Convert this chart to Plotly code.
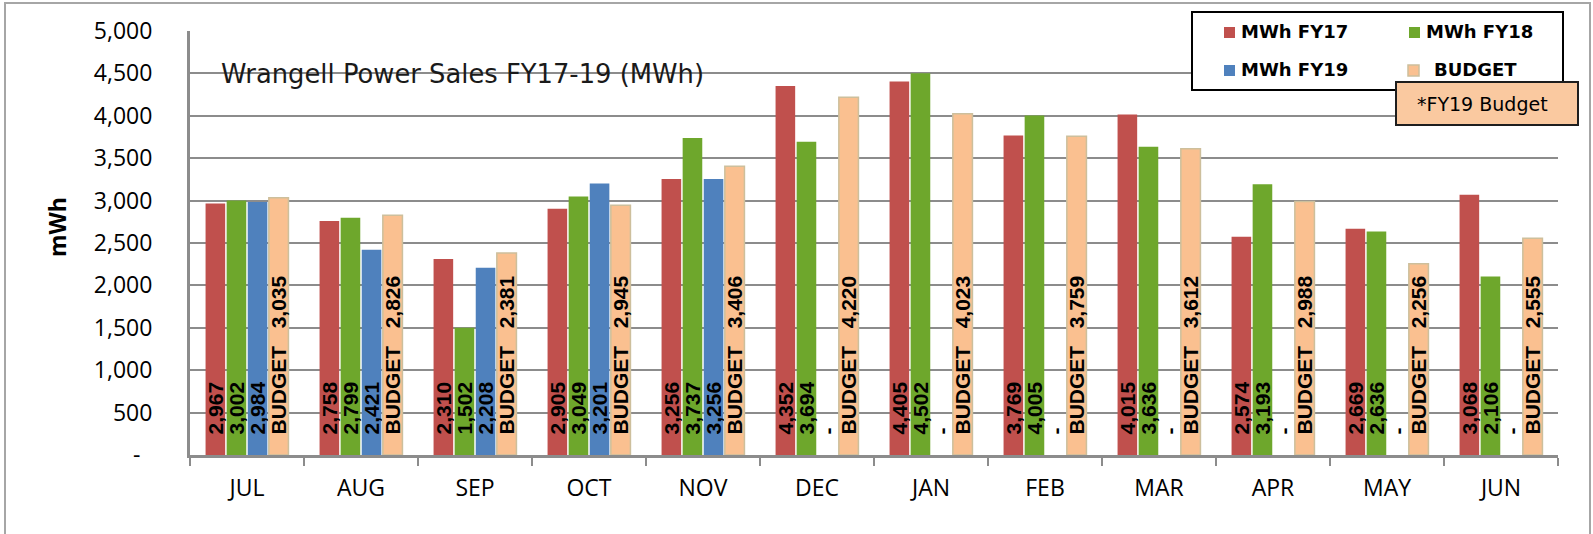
import plotly.graph_objects as go

# ---- data -------------------------------------------------------------
months = ["JUL", "AUG", "SEP", "OCT", "NOV", "DEC",
          "JAN", "FEB", "MAR", "APR", "MAY", "JUN"]
mwh_fy17 = [2967, 2758, 2310, 2905, 3256, 4352, 4405, 3769, 4015, 2574, 2669, 3068]
mwh_fy18 = [3002, 2799, 1502, 3049, 3737, 3694, 4502, 4005, 3636, 3193, 2636, 2106]
mwh_fy19 = [2984, 2421, 2208, 3201, 3256, 0, 0, 0, 0, 0, 0, 0]
budget = [3035, 2826, 2381, 2945, 3406, 4220, 4023, 3759, 3612, 2988, 2256, 2555]

y_tick_vals = [0, 500, 1000, 1500, 2000, 2500, 3000, 3500, 4000, 4500, 5000]
y_tick_text = ["-\u00a0\u00a0", "500", "1,000", "1,500", "2,000", "2,500",
               "3,000", "3,500", "4,000", "4,500", "5,000"]

series_names = ["MWh FY17", "MWh FY18", "MWh FY19", "BUDGET"]
chart_title = "Wrangell Power Sales FY17-19 (MWh)"
note_text = "*FY19 Budget"
y_title = "mWh"

# ---- style ------------------------------------------------------------
RED = "#C0504D"
GREEN = "#6EA72C"
BLUE = "#4F81BD"
PEACH = "#FAC090"
TAN = "#CDBF9C"
GRID = "#8C8C8C"

W, H = 1593, 534
ML, MR, MT, MB = 190, 35, 31, 79
PW, PH = W - ML - MR, H - MT - MB

NB = "\u00a0"
PAD = NB * 3            # lifts bar labels off the baseline
LABEL_FONT = dict(family="Liberation Sans", size=21, color="black", weight="bold")


def px_x(px):
    return (px - ML) / PW


def px_y(py):
    return (H - MB - py) / PH


def fmt(v):
    return f"{v:,}" if v else "-"


fig = go.Figure()


def add_series(name, values, color, texts, line_color=None, positions="inside"):
    fig.add_trace(go.Bar(
        x=months, y=values, name=name,
        marker=dict(color=color,
                    line=dict(color=line_color or color, width=1.5 if line_color else 0)),
        text=[PAD + t for t in texts],
        textposition=positions,
        insidetextanchor="start",
        textangle=-90,
        constraintext="none",
        cliponaxis=False,
        insidetextfont=LABEL_FONT,
        outsidetextfont=LABEL_FONT,
        showlegend=False,
        hoverinfo="x+y+name",
    ))


add_series(series_names[0], mwh_fy17, RED, [fmt(v) for v in mwh_fy17])
add_series(series_names[1], mwh_fy18, GREEN, [fmt(v) for v in mwh_fy18])
add_series(series_names[2], mwh_fy19, BLUE, [fmt(v) for v in mwh_fy19],
           positions=["inside" if v else "outside" for v in mwh_fy19])
add_series(series_names[3], budget, PEACH, ["BUDGET" + NB * 3 + fmt(v) for v in budget],
           line_color=TAN)

# ---- legend box, note box and outer frame -----------------------------
shapes = [
    dict(type="rect", xref="paper", yref="paper",
         x0=px_x(5), x1=px_x(1590), y0=px_y(545), y1=px_y(3),
         line=dict(color="#A6A6A6", width=2), fillcolor="rgba(0,0,0,0)", layer="below"),
    dict(type="rect", xref="paper", yref="paper",
         x0=px_x(1192), x1=px_x(1563), y0=px_y(90), y1=px_y(12),
         line=dict(color="black", width=2), fillcolor="white", layer="above"),
    dict(type="rect", xref="paper", yref="paper",
         x0=px_x(1396), x1=px_x(1578), y0=px_y(125), y1=px_y(82),
         line=dict(color="#1E1E1E", width=2), fillcolor="#FAC9A0", layer="above"),
]

legend_items = [
    (series_names[0], RED, None, 1224, 27, 1239, 31),
    (series_names[1], GREEN, None, 1409, 27, 1424, 31),
    (series_names[2], BLUE, None, 1224, 65, 1239, 70),
    (series_names[3], PEACH, TAN, 1408, 65, 1432, 70),
]

annotations = []
for name, col, edge, sx, sy, tx, ty in legend_items:
    shapes.append(dict(type="rect", xref="paper", yref="paper",
                       x0=px_x(sx), x1=px_x(sx + 11), y0=px_y(sy + 11), y1=px_y(sy),
                       line=dict(color=edge or col, width=1.5 if edge else 0),
                       fillcolor=col, layer="above"))
    annotations.append(dict(text=name, xref="paper", yref="paper",
                            x=px_x(tx), y=px_y(ty), xanchor="left", yanchor="middle",
                            showarrow=False,
                            font=dict(family="DejaVu Sans", size=18, color="black",
                                      weight="bold")))

annotations += [
    dict(text=note_text, xref="paper", yref="paper", x=px_x(1415), y=px_y(104),
         xanchor="left", yanchor="middle", showarrow=False,
         font=dict(family="DejaVu Sans", size=19, color="black")),
    dict(text=chart_title, xref="paper", yref="paper", x=px_x(219), y=px_y(74),
         xanchor="left", yanchor="middle", showarrow=False,
         font=dict(family="DejaVu Sans", size=25.8, color="#1A1A1A")),
    dict(text=y_title, xref="paper", yref="paper", x=px_x(57), y=px_y(227),
         xanchor="center", yanchor="middle", textangle=-90, showarrow=False,
         font=dict(family="Open Sans", size=23, color="black", weight="bold")),
]

fig.update_layout(
    width=W, height=H,
    margin=dict(l=ML, r=MR, t=MT, b=MB, pad=0),
    paper_bgcolor="white", plot_bgcolor="white",
    barmode="group", bargap=0.26, bargroupgap=0.07,
    shapes=shapes, annotations=annotations,
    showlegend=False,
    font=dict(family="Open Sans", size=23, color="black"),
)

fig.update_xaxes(
    type="category",
    showline=True, linecolor=GRID, linewidth=3,
    ticks="outside", tickson="boundaries", ticklen=8, tickwidth=2, tickcolor=GRID,
    ticklabelstandoff=10,
    tickfont=dict(family="Open Sans", size=23, color="black"),
    showgrid=False, zeroline=False,
)

fig.update_yaxes(
    range=[0, 5000],
    tickvals=y_tick_vals, ticktext=y_tick_text,
    showline=True, linecolor=GRID, linewidth=3,
    showgrid=True, gridcolor=GRID, gridwidth=2,
    zeroline=False, ticks="",
    ticklabelstandoff=30,
    tickfont=dict(family="Open Sans", size=23, color="black"),
)

fig.write_html("out.html")
